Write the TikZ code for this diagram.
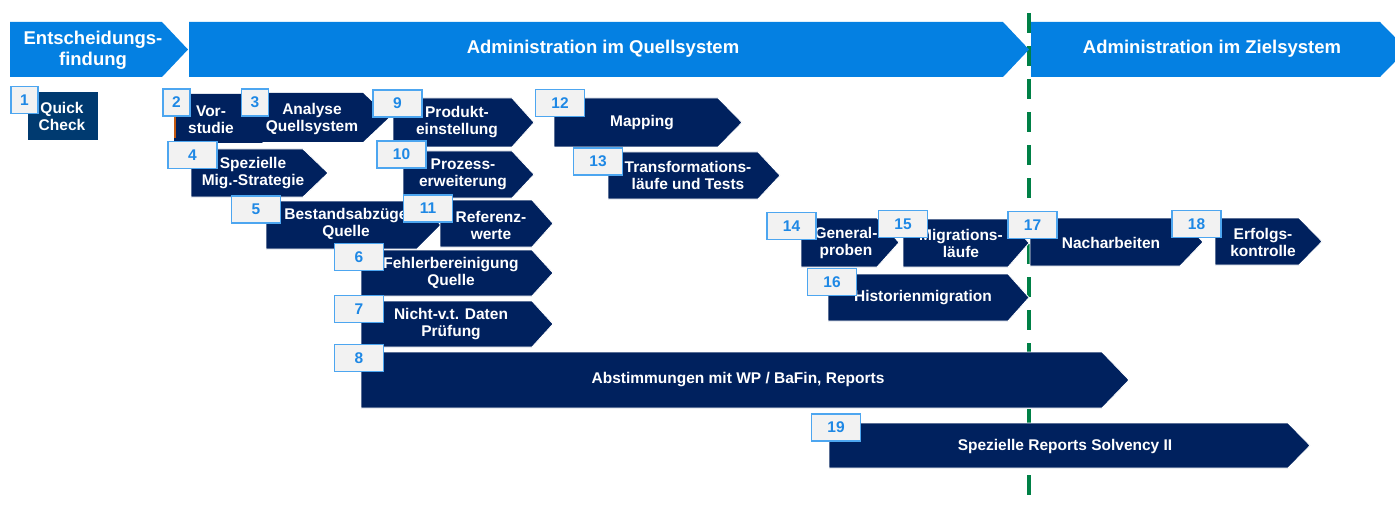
\documentclass[tikz,border=0pt]{standalone}
\usepackage{fontspec}
\setmainfont{Liberation Sans}
\definecolor{headblue}{RGB}{4,128,226}
\definecolor{navy}{RGB}{0,33,94}
\definecolor{quickblue}{RGB}{0,58,112}
\definecolor{badgefill}{RGB}{242,242,242}
\definecolor{badgeline}{RGB}{77,166,240}
\definecolor{badgetext}{RGB}{30,136,229}
\definecolor{milestone}{RGB}{0,128,70}
\definecolor{edgeorange}{RGB}{197,90,17}
\newcommand\chevron[6][chev]{\path[#1] (#2,#3) -- (#5,#3) -- (#6,{(#3+#4)/2}) -- (#5,#4) -- (#2,#4) -- cycle;}
\begin{document}
\begin{tikzpicture}[x=1pt,y=-1pt,
  chev/.style={fill=navy, draw=white, line width=0.8pt},
  chevplain/.style={fill=navy},
  hdrshape/.style={fill=headblue},
  txt/.style={text=white, font=\bfseries\fontsize{15.5}{17}\selectfont, align=center, inner sep=0pt},
  hdr/.style={text=white, font=\bfseries\fontsize{18.5}{21}\selectfont, align=center, inner sep=0pt},
  badge/.style={fill=badgefill, draw=badgeline, line width=1.5pt, text=badgetext,
    font=\bfseries\fontsize{15.5}{15.5}\selectfont, inner sep=0pt, minimum width=49pt, minimum height=27pt},
  smallbadge/.style={badge, minimum width=27pt}]
\useasboundingbox (0,0) rectangle (1395,508);
% milestone line
\coordinate (gtop) at (1029,13);
\coordinate (gbot) at (1029,495);
\draw[milestone, line width=4pt, dash pattern=on 20pt off 13pt] (gtop) -- (gbot);
% headers
\chevron[hdrshape]{10}{22}{77}{162}{188}
\chevron[hdrshape]{189}{22}{77}{1003}{1029}
\chevron[hdrshape]{1031}{22}{77}{1380}{1407}
\node[hdr] (h1) at (93,50) {Entscheidungs-\\findung};
\node[hdr] (h2) at (603,49) {Administration im Quellsystem};
\node[hdr] (h3) at (1212,49) {Administration im Zielsystem};
% 1 quick check
\path[fill=quickblue, draw=white, line width=0.8pt] (27,91) rectangle (98,140);
\node[txt] (t1) at (62,116) {Quick\\Check};
% 2 & 3
\chevron[chevplain]{174}{94}{143}{262}{286}
\draw[edgeorange, line width=2.5pt] (175,117) -- (175,138);
\node[txt] (t2) at (211,120) {Vor-\\studie};
\chevron[chevplain]{247}{93}{142}{363}{389}
\node[txt] (t3) at (312,119) {Analyse\\Quellsystem};
% 4
\chevron{191}{149}{197}{303}{328}
\node[txt] (t4) at (253,173) {Spezielle\\Mig.-Strategie};
% 5
\chevron{266}{201}{249}{417}{441}
\node[txt] (t5) at (346,224) {Bestandsabzüge\\Quelle};
% 6
\chevron{361}{250}{296}{532}{553}
\node[txt] (t6) at (451,273) {Fehlerbereinigung\\Quelle};
% 7
\chevron{361}{301}{347}{532}{553}
\node[txt] (t7) at (451,324) {Nicht-v.t. Daten\\Prüfung};
% 8
\chevron{361}{352}{408}{1102}{1129}
\node[txt] (t8) at (738,380) {Abstimmungen mit WP / BaFin, Reports};
% 9
\chevron{393}{98}{147}{512}{534}
\node[txt] (t9) at (457,122) {Produkt-\\einstellung};
% 10
\chevron{403}{151}{198}{512}{534}
\node[txt] (t10) at (463,174) {Prozess-\\erweiterung};
% 11
\chevron{440}{200}{247}{532}{553}
\node[txt] (t11) at (491,225) {Referenz-\\werte};
% 12
\chevron{554}{98}{147}{718}{742}
\node[txt] (t12) at (642,123) {Mapping};
% 13
\chevron{608}{152}{199}{758}{780}
\node[txt] (t13) at (688,175) {Transformations-\\läufe und Tests};
% 14
\chevron{801}{218}{267}{877}{899}
\node[txt] (t14) at (846,243) {General-\\proben};
% 15
\chevron{903}{219}{267}{1008}{1029}
\node[txt] (t15) at (961,243) {Migrations-\\läufe};
% 16
\chevron{828}{274}{321}{1008}{1029}
\node[txt] (t16) at (923,298) {Historienmigration};
% 17
\chevron{1030}{218}{266}{1180}{1203}
\node[txt] (t17) at (1111,243) {Nacharbeiten};
% 18
\chevron{1215}{218}{265}{1299}{1322}
\node[txt] (t18) at (1263,242) {Erfolgs-\\kontrolle};
% 19
\chevron{829}{423}{468}{1288}{1310}
\node[txt] (t19) at (1065,446) {Spezielle Reports Solvency II};
% badges
\node[smallbadge] (b1) at (24.5,100) {1};
\node[smallbadge] (b2) at (176.5,102.5) {2};
\node[smallbadge] (b3) at (255,102.5) {3};
\node[badge] (b4) at (192.5,155) {4};
\node[badge] (b5) at (256,209.5) {5};
\node[badge] (b6) at (359,257) {6};
\node[badge] (b7) at (359,309) {7};
\node[badge] (b8) at (359,358) {8};
\node[badge] (b9) at (397.5,103.5) {9};
\node[badge] (b10) at (401.5,154.5) {10};
\node[badge] (b11) at (428,208.5) {11};
\node[badge] (b12) at (560,103) {12};
\node[badge] (b13) at (598,161.5) {13};
\node[badge] (b14) at (791.5,226) {14};
\node[badge] (b15) at (903,224) {15};
\node[badge] (b16) at (832,282) {16};
\node[badge] (b17) at (1032.5,225) {17};
\node[badge] (b18) at (1196.5,224) {18};
\node[badge] (b19) at (836,427.5) {19};
\end{tikzpicture}
\end{document}
